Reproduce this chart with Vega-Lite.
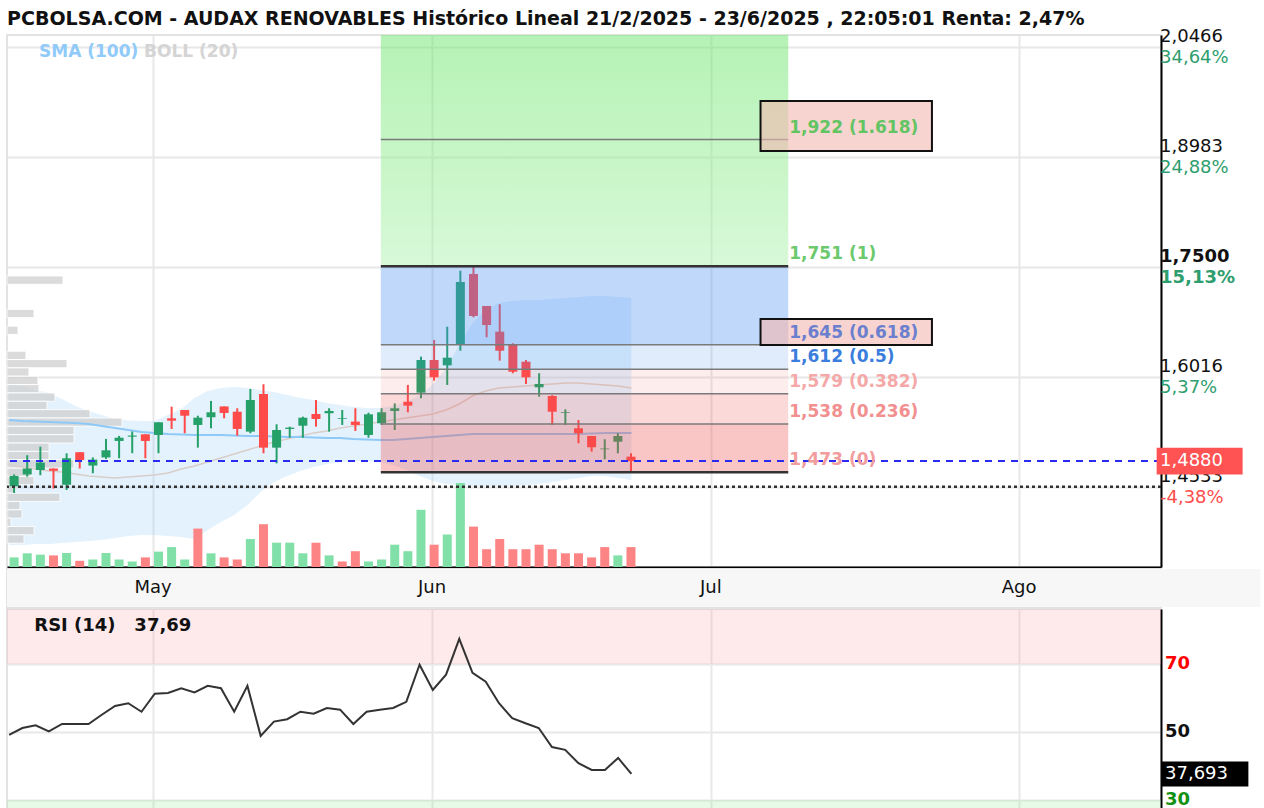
{
  "$schema": "https://vega.github.io/schema/vega-lite/v6.json",
  "background": "white",
  "padding": {"left": 4, "top": 10, "right": 0, "bottom": 0},
  "title": {"text": "PCBOLSA.COM - AUDAX RENOVABLES Histórico Lineal 21/2/2025 - 23/6/2025 , 22:05:01 Renta: 2,47%", "anchor": "start", "font": "DejaVu Sans", "fontSize": 19, "fontWeight": "bold", "color": "#111111", "offset": -2, "dx": 3},
  "config": {"view": {"stroke": "#e3e3e3", "strokeWidth": 2}, "font": "DejaVu Sans"},
  "spacing": 0,
  "datasets": {
    "velas": [
      {"i":0,"o":1.454,"h":1.470,"l":1.445,"c":1.468,"vol":96,"var":"+","rsi":49.2,"bs":1.5934,"bm":1.4828,"bi":1.3748,"sma":1.5435},
      {"i":1,"o":1.470,"h":1.496,"l":1.467,"c":1.478,"vol":137,"var":"+","rsi":51.2,"bs":1.5894,"bm":1.4801,"bi":1.3748,"sma":1.5422},
      {"i":2,"o":1.476,"h":1.5075,"l":1.469,"c":1.486,"vol":123,"var":"+","rsi":52.0,"bs":1.5840,"bm":1.4774,"bi":1.3762,"sma":1.5415},
      {"i":3,"o":1.478,"h":1.478,"l":1.451,"c":1.475,"vol":116,"var":"-","rsi":50.2,"bs":1.5799,"bm":1.4747,"bi":1.3762,"sma":1.5408},
      {"i":4,"o":1.456,"h":1.4985,"l":1.449,"c":1.492,"vol":140,"var":"+","rsi":52.4,"bs":1.5719,"bm":1.4734,"bi":1.3775,"sma":1.5401},
      {"i":5,"o":1.500,"h":1.500,"l":1.478,"c":1.4895,"vol":62,"var":"-","rsi":52.4,"bs":1.5624,"bm":1.4707,"bi":1.3789,"sma":1.5395},
      {"i":6,"o":1.482,"h":1.493,"l":1.4716,"c":1.490,"vol":75,"var":"+","rsi":52.4,"bs":1.5556,"bm":1.4680,"bi":1.3802,"sma":1.5381},
      {"i":7,"o":1.493,"h":1.518,"l":1.491,"c":1.5026,"vol":140,"var":"+","rsi":55.1,"bs":1.5502,"bm":1.4666,"bi":1.3816,"sma":1.5354},
      {"i":8,"o":1.5152,"h":1.522,"l":1.4918,"c":1.5196,"vol":75,"var":"+","rsi":57.7,"bs":1.5449,"bm":1.4653,"bi":1.3843,"sma":1.5327},
      {"i":9,"o":1.521,"h":1.528,"l":1.4987,"c":1.5225,"vol":55,"var":"+","rsi":58.5,"bs":1.5428,"bm":1.4666,"bi":1.3870,"sma":1.5300},
      {"i":10,"o":1.5242,"h":1.5242,"l":1.4918,"c":1.5152,"vol":96,"var":"-","rsi":56.0,"bs":1.5422,"bm":1.4680,"bi":1.3884,"sma":1.5273},
      {"i":11,"o":1.5233,"h":1.5404,"l":1.4986,"c":1.5404,"vol":154,"var":"+","rsi":61.3,"bs":1.5422,"bm":1.4693,"bi":1.3884,"sma":1.5260},
      {"i":12,"o":1.5458,"h":1.5615,"l":1.5314,"c":1.5426,"vol":199,"var":"+","rsi":61.5,"bs":1.5502,"bm":1.4720,"bi":1.3870,"sma":1.5246},
      {"i":13,"o":1.557,"h":1.557,"l":1.5256,"c":1.5493,"vol":75,"var":"+","rsi":62.9,"bs":1.5583,"bm":1.4774,"bi":1.3856,"sma":1.5240},
      {"i":14,"o":1.5368,"h":1.5493,"l":1.5062,"c":1.5466,"vol":384,"var":"-","rsi":61.7,"bs":1.5732,"bm":1.4814,"bi":1.3829,"sma":1.5233},
      {"i":15,"o":1.5472,"h":1.5692,"l":1.5323,"c":1.5539,"vol":137,"var":"+","rsi":63.6,"bs":1.5826,"bm":1.4868,"bi":1.3951,"sma":1.5233},
      {"i":16,"o":1.5618,"h":1.5618,"l":1.5458,"c":1.553,"vol":96,"var":"-","rsi":62.9,"bs":1.5867,"bm":1.4922,"bi":1.4059,"sma":1.5233},
      {"i":17,"o":1.5547,"h":1.5593,"l":1.5223,"c":1.5314,"vol":75,"var":"-","rsi":56.0,"bs":1.5880,"bm":1.4976,"bi":1.4154,"sma":1.5226},
      {"i":18,"o":1.5278,"h":1.5854,"l":1.5256,"c":1.5705,"vol":280,"var":"+","rsi":63.6,"bs":1.5867,"bm":1.5030,"bi":1.4289,"sma":1.5219},
      {"i":19,"o":1.5786,"h":1.5917,"l":1.4986,"c":1.5062,"vol":428,"var":"-","rsi":48.9,"bs":1.5840,"bm":1.5084,"bi":1.4464,"sma":1.5219},
      {"i":20,"o":1.5062,"h":1.5377,"l":1.485,"c":1.530,"vol":243,"var":"+","rsi":53.1,"bs":1.5813,"bm":1.5138,"bi":1.4599,"sma":1.5213},
      {"i":21,"o":1.5314,"h":1.5345,"l":1.5196,"c":1.5332,"vol":243,"var":"+","rsi":53.8,"bs":1.5772,"bm":1.5179,"bi":1.4680,"sma":1.5206},
      {"i":22,"o":1.5358,"h":1.548,"l":1.5196,"c":1.5466,"vol":137,"var":"+","rsi":56.0,"bs":1.5732,"bm":1.5219,"bi":1.4747,"sma":1.5206},
      {"i":23,"o":1.5516,"h":1.5705,"l":1.5345,"c":1.5449,"vol":243,"var":"-","rsi":55.4,"bs":1.5705,"bm":1.5260,"bi":1.4801,"sma":1.5199},
      {"i":24,"o":1.5526,"h":1.5593,"l":1.5278,"c":1.5557,"vol":116,"var":"+","rsi":57.1,"bs":1.5665,"bm":1.5287,"bi":1.4841,"sma":1.5192},
      {"i":25,"o":1.545,"h":1.557,"l":1.5368,"c":1.546,"vol":55,"var":"-","rsi":56.6,"bs":1.5637,"bm":1.5327,"bi":1.4868,"sma":1.5192},
      {"i":26,"o":1.5413,"h":1.5593,"l":1.5287,"c":1.5368,"vol":158,"var":"-","rsi":52.4,"bs":1.5610,"bm":1.5354,"bi":1.4882,"sma":1.5179},
      {"i":27,"o":1.5233,"h":1.5534,"l":1.5196,"c":1.5512,"vol":55,"var":"+","rsi":56.0,"bs":1.5597,"bm":1.5381,"bi":1.4882,"sma":1.5172},
      {"i":28,"o":1.5391,"h":1.5593,"l":1.5368,"c":1.5539,"vol":75,"var":"+","rsi":56.6,"bs":1.5597,"bm":1.5408,"bi":1.4868,"sma":1.5165},
      {"i":29,"o":1.5557,"h":1.566,"l":1.530,"c":1.5593,"vol":223,"var":"+","rsi":57.1,"bs":1.5624,"bm":1.5435,"bi":1.4828,"sma":1.5165},
      {"i":30,"o":1.5682,"h":1.5908,"l":1.5539,"c":1.5629,"vol":158,"var":"+","rsi":58.9,"bs":1.5678,"bm":1.5462,"bi":1.4761,"sma":1.5179},
      {"i":31,"o":1.5804,"h":1.629,"l":1.5728,"c":1.6245,"vol":572,"var":"+","rsi":69.8,"bs":1.5772,"bm":1.5489,"bi":1.4680,"sma":1.5192},
      {"i":32,"o":1.6245,"h":1.6515,"l":1.5966,"c":1.6011,"vol":223,"var":"-","rsi":62.4,"bs":1.5907,"bm":1.5516,"bi":1.4613,"sma":1.5206},
      {"i":33,"o":1.6173,"h":1.6694,"l":1.5908,"c":1.6276,"vol":325,"var":"+","rsi":66.9,"bs":1.6137,"bm":1.5570,"bi":1.4572,"sma":1.5219},
      {"i":34,"o":1.6447,"h":1.745,"l":1.637,"c":1.7298,"vol":840,"var":"+","rsi":77.4,"bs":1.6447,"bm":1.5651,"bi":1.4559,"sma":1.5233},
      {"i":35,"o":1.7406,"h":1.751,"l":1.6821,"c":1.6839,"vol":404,"var":"-","rsi":67.4,"bs":1.6744,"bm":1.5759,"bi":1.4545,"sma":1.5246},
      {"i":36,"o":1.6974,"h":1.6974,"l":1.6551,"c":1.6717,"vol":178,"var":"-","rsi":64.8,"bs":1.6920,"bm":1.5826,"bi":1.4545,"sma":1.5246},
      {"i":37,"o":1.6627,"h":1.6997,"l":1.6236,"c":1.637,"vol":280,"var":"-","rsi":58.5,"bs":1.7014,"bm":1.5867,"bi":1.4545,"sma":1.5246},
      {"i":38,"o":1.6457,"h":1.647,"l":1.6066,"c":1.6087,"vol":178,"var":"-","rsi":54.1,"bs":1.7041,"bm":1.5880,"bi":1.4545,"sma":1.5246},
      {"i":39,"o":1.6222,"h":1.6245,"l":1.5921,"c":1.6011,"vol":178,"var":"-","rsi":52.6,"bs":1.7055,"bm":1.5894,"bi":1.4559,"sma":1.5246},
      {"i":40,"o":1.5876,"h":1.6066,"l":1.575,"c":1.5921,"vol":223,"var":"-","rsi":51.2,"bs":1.7055,"bm":1.5907,"bi":1.4572,"sma":1.5246},
      {"i":41,"o":1.5759,"h":1.577,"l":1.5368,"c":1.5547,"vol":178,"var":"-","rsi":45.6,"bs":1.7068,"bm":1.5921,"bi":1.4599,"sma":1.5246},
      {"i":42,"o":1.553,"h":1.5579,"l":1.5368,"c":1.554,"vol":137,"var":"-","rsi":44.8,"bs":1.7082,"bm":1.5934,"bi":1.4626,"sma":1.5246},
      {"i":43,"o":1.5323,"h":1.5435,"l":1.512,"c":1.5256,"vol":137,"var":"-","rsi":40.9,"bs":1.7095,"bm":1.5934,"bi":1.4653,"sma":1.5246},
      {"i":44,"o":1.5219,"h":1.522,"l":1.5008,"c":1.5067,"vol":96,"var":"-","rsi":38.9,"bs":1.7109,"bm":1.5921,"bi":1.4680,"sma":1.5253},
      {"i":45,"o":1.504,"h":1.5175,"l":1.4905,"c":1.505,"vol":199,"var":"-","rsi":38.9,"bs":1.7109,"bm":1.5907,"bi":1.4680,"sma":1.5260},
      {"i":46,"o":1.5142,"h":1.5256,"l":1.4986,"c":1.5219,"vol":116,"var":"+","rsi":42.4,"bs":1.7095,"bm":1.5894,"bi":1.4653,"sma":1.5260},
      {"i":47,"o":1.494,"h":1.4986,"l":1.473,"c":1.488,"vol":199,"var":"-","rsi":37.7,"bs":1.7082,"bm":1.5867,"bi":1.4626,"sma":1.5260}
    ],
    "perfil": [
      {"sup":1.7379,"inf":1.7266,"vol":56},
      {"sup":1.6928,"inf":1.6815,"vol":27},
      {"sup":1.6702,"inf":1.6590,"vol":11},
      {"sup":1.6364,"inf":1.6251,"vol":19},
      {"sup":1.6251,"inf":1.6139,"vol":60},
      {"sup":1.6139,"inf":1.6026,"vol":22},
      {"sup":1.6026,"inf":1.5913,"vol":31},
      {"sup":1.5913,"inf":1.5801,"vol":32},
      {"sup":1.5801,"inf":1.5688,"vol":48},
      {"sup":1.5688,"inf":1.5575,"vol":40},
      {"sup":1.5575,"inf":1.5462,"vol":83},
      {"sup":1.5462,"inf":1.5350,"vol":115},
      {"sup":1.5350,"inf":1.5237,"vol":67},
      {"sup":1.5237,"inf":1.5124,"vol":67},
      {"sup":1.5124,"inf":1.5012,"vol":42},
      {"sup":1.5012,"inf":1.4899,"vol":42},
      {"sup":1.4899,"inf":1.4786,"vol":67},
      {"sup":1.4786,"inf":1.4674,"vol":24},
      {"sup":1.4674,"inf":1.4561,"vol":27},
      {"sup":1.4561,"inf":1.4448,"vol":8},
      {"sup":1.4448,"inf":1.4336,"vol":53},
      {"sup":1.4336,"inf":1.4223,"vol":13},
      {"sup":1.4223,"inf":1.4110,"vol":15},
      {"sup":1.4110,"inf":1.3998,"vol":4},
      {"sup":1.3998,"inf":1.3885,"vol":27},
      {"sup":1.3885,"inf":1.3772,"vol":17}
    ],
    "fib": [
      {"nivel":1.922,"t":"1,922 (1.618)"},
      {"nivel":1.751,"t":"1,751 (1)"},
      {"nivel":1.645,"t":"1,645 (0.618)"},
      {"nivel":1.612,"t":"1,612 (0.5)"},
      {"nivel":1.579,"t":"1,579 (0.382)"},
      {"nivel":1.538,"t":"1,538 (0.236)"},
      {"nivel":1.473,"t":"1,473 (0)"}
    ],
    "zonas": [
      {"sup":1.751,"inf":1.645},
      {"sup":1.645,"inf":1.612},
      {"sup":1.612,"inf":1.579},
      {"sup":1.579,"inf":1.538},
      {"sup":1.538,"inf":1.473}
    ],
    "ejes": [
      {"v":2.0466,"t":"2,0466","p":"34,64%"},
      {"v":1.8983,"t":"1,8983","p":"24,88%"},
      {"v":1.75,"t":"1,7500","p":"15,13%"},
      {"v":1.6016,"t":"1,6016","p":"5,37%"},
      {"v":1.4533,"t":"1,4533","p":"-4,38%"}
    ],
    "meses": [
      {"i":10.87,"mes":"May"},
      {"i":31.94,"mes":"Jun"},
      {"i":53.0,"mes":"Jul"},
      {"i":76.28,"mes":"Ago"}
    ],
    "rsiejes": [
      {"v":70,"t":"70"},
      {"v":50,"t":"50"},
      {"v":30,"t":"30"}
    ]
  },
  "vconcat": [
    {
      "width": 1154,
      "height": 532,
      "resolve": {"scale": {"x": "independent", "y": "independent"}},
      "layer": [
        {
          "data": {"name": "velas"},
          "mark": {"type": "area", "color": "#90caf9", "opacity": 0.25, "clip": true},
          "encoding": {
            "x": {"field": "i", "type": "quantitative", "scale": {"domain": [-0.16, 87.0], "nice": false, "zero": false},
                  "axis": {"values": [10.87, 31.94, 53.0, 76.28], "grid": true, "gridColor": "#e8e8e8", "gridWidth": 2, "labels": false, "ticks": false, "domain": true, "domainColor": "#000000", "domainWidth": 2, "title": null}},
            "y": {"field": "bs", "type": "quantitative", "scale": {"domain": [1.3451, 2.0631], "nice": false, "zero": false},
                  "axis": {"orient": "right", "values": [1.4533, 1.6016, 1.75, 1.8983, 2.0466], "grid": true, "gridColor": "#e8e8e8", "gridWidth": 2, "labels": false, "ticks": false, "domain": true, "domainColor": "#000000", "domainWidth": 2, "title": null}},
            "y2": {"field": "bi"}
          }
        },
        {
          "data": {"name": "perfil"},
          "mark": {"type": "rect", "color": "#d0d0d0", "opacity": 0.75, "stroke": "white", "strokeWidth": 1},
          "encoding": {
            "x": {"field": "vol", "type": "quantitative", "scale": {"domain": [0, 1154], "nice": false, "zero": false}, "axis": null},
            "x2": {"datum": 0},
            "y": {"field": "sup", "type": "quantitative", "scale": {"domain": [1.3451, 2.0631], "nice": false, "zero": false}, "axis": null},
            "y2": {"field": "inf"}
          }
        },
        {
          "data": {"name": "velas"},
          "layer": [
            {
              "mark": {"type": "line", "color": "#d9cec9", "strokeWidth": 1.5, "clip": true},
              "encoding": {
                "x": {"field": "i", "type": "quantitative", "scale": {"domain": [-0.16, 87.0], "nice": false, "zero": false}, "axis": null},
                "y": {"field": "bm", "type": "quantitative", "scale": {"domain": [1.3451, 2.0631], "nice": false, "zero": false}, "axis": null}
              }
            },
            {
              "mark": {"type": "line", "color": "#8ec9f8", "strokeWidth": 2, "clip": true},
              "encoding": {
                "x": {"field": "i", "type": "quantitative", "axis": null},
                "y": {"field": "sma", "type": "quantitative", "axis": null}
              }
            }
          ]
        },
        {
          "data": {"name": "velas"},
          "mark": {"type": "bar", "size": 9, "clip": true},
          "encoding": {
            "x": {"field": "i", "type": "quantitative", "scale": {"domain": [-0.16, 87.0], "nice": false, "zero": false}, "axis": null},
            "y": {"field": "vol", "type": "quantitative", "scale": {"domain": [0, 5320], "nice": false, "zero": false}, "axis": null},
            "color": {"condition": {"test": "datum['var'] == '+'", "value": "#80e0a8"}, "value": "#fc8484"}
          }
        },
        {
          "layer": [
            {
              "data": {"name": "velas"},
              "mark": {"type": "rule", "strokeWidth": 2, "clip": true},
              "encoding": {
                "x": {"field": "i", "type": "quantitative", "scale": {"domain": [-0.16, 87.0], "nice": false, "zero": false}, "axis": null},
                "y": {"field": "l", "type": "quantitative", "scale": {"domain": [1.3451, 2.0631], "nice": false, "zero": false}, "axis": null},
                "y2": {"field": "h"},
                "color": {"condition": {"test": "datum.c >= datum.o", "value": "#26a069"}, "value": "#ff4a4a"}
              }
            },
            {
              "data": {"name": "velas"},
              "mark": {"type": "bar", "size": 9, "clip": true},
              "encoding": {
                "x": {"field": "i", "type": "quantitative"},
                "y": {"field": "o", "type": "quantitative"},
                "y2": {"field": "c"},
                "color": {"condition": {"test": "datum.c >= datum.o", "value": "#26a069"}, "value": "#ff4a4a"}
              }
            },
            {
              "data": {"values": [{}]},
              "mark": {"type": "rect", "clip": true, "opacity": 0.5, "color": {"gradient": "linear", "x1": 0, "y1": 0, "x2": 0, "y2": 1, "stops": [{"offset": 0, "color": "#6be56b"}, {"offset": 1, "color": "#b0f2b0"}]}},
              "encoding": {
                "x": {"datum": 27.94, "type": "quantitative"},
                "x2": {"datum": 58.98},
                "y": {"datum": 2.0631, "type": "quantitative"},
                "y2": {"datum": 1.751}
              }
            },
            {
              "data": {"name": "zonas"},
              "mark": {"type": "rect"},
              "encoding": {
                "x": {"datum": 27.94, "type": "quantitative"},
                "x2": {"datum": 58.98},
                "y": {"field": "sup", "type": "quantitative"},
                "y2": {"field": "inf"},
                "color": {"condition": {"test": "datum.sup > 1.62", "value": "#4a8ef0"}, "value": "#f05050"},
                "opacity": {"condition": [{"test": "datum.sup > 1.7", "value": 0.35}, {"test": "datum.sup > 1.62", "value": 0.17}, {"test": "datum.sup > 1.6", "value": 0.1}, {"test": "datum.sup > 1.56", "value": 0.22}], "value": 0.33}
              }
            },
            {
              "data": {"name": "fib"},
              "mark": {"type": "rule"},
              "encoding": {
                "x": {"datum": 27.94, "type": "quantitative"},
                "x2": {"datum": 58.98},
                "y": {"field": "nivel", "type": "quantitative"},
                "color": {"condition": {"test": "datum.nivel == 1.751 || datum.nivel == 1.473", "value": "#333333"}, "value": "#7a7a7a"},
                "strokeWidth": {"condition": {"test": "datum.nivel == 1.751 || datum.nivel == 1.473", "value": 2.5}, "value": 1.5}
              }
            },
            {
              "data": {"values": [{}]},
              "mark": {"type": "rect", "fill": "#f4b8b0", "fillOpacity": 0.6, "stroke": "#111111", "strokeWidth": 2, "clip": false},
              "encoding": {
                "x": {"datum": 56.87, "type": "quantitative"},
                "x2": {"datum": 69.93},
                "y": {"datum": 1.974, "type": "quantitative"},
                "y2": {"datum": 1.9066}
              }
            },
            {
              "data": {"values": [{}]},
              "mark": {"type": "rect", "fill": "#f4b8b0", "fillOpacity": 0.6, "stroke": "#111111", "strokeWidth": 2, "clip": false},
              "encoding": {
                "x": {"datum": 56.87, "type": "quantitative"},
                "x2": {"datum": 69.93},
                "y": {"datum": 1.6798, "type": "quantitative"},
                "y2": {"datum": 1.6447}
              }
            },
            {
              "data": {"values": [{}]},
              "mark": {"type": "rule", "color": "#2a2af5", "strokeWidth": 2, "strokeDash": [7, 6]},
              "encoding": {"y": {"datum": 1.488, "type": "quantitative"}}
            },
            {
              "data": {"values": [{}]},
              "mark": {"type": "rule", "color": "#333333", "strokeWidth": 2.5, "strokeDash": [3, 3]},
              "encoding": {"y": {"datum": 1.4533, "type": "quantitative"}}
            },
            {
              "data": {"name": "fib"},
              "mark": {"type": "text", "align": "left", "baseline": "middle", "dx": 1, "dy": -12, "fontSize": 17, "fontWeight": "bold", "clip": false},
              "encoding": {
                "x": {"datum": 58.98, "type": "quantitative"},
                "y": {"field": "nivel", "type": "quantitative"},
                "text": {"field": "t"},
                "color": {"condition": [
                  {"test": "datum.nivel == 1.922", "value": "#62c462"},
                  {"test": "datum.nivel == 1.751", "value": "#6cc96c"},
                  {"test": "datum.nivel == 1.645", "value": "#6b7fcf"},
                  {"test": "datum.nivel == 1.612", "value": "#3b7ddd"},
                  {"test": "datum.nivel == 1.579", "value": "#f5a8a8"},
                  {"test": "datum.nivel == 1.538", "value": "#f28f8f"}
                ], "value": "#f29d9d"}
              }
            },
            {
              "data": {"values": [{}]},
              "mark": {"type": "text", "align": "left", "baseline": "middle", "fontSize": 17, "fontWeight": "bold", "color": "#90caf9"},
              "encoding": {
                "x": {"datum": 1.9, "type": "quantitative"},
                "y": {"datum": 2.0401, "type": "quantitative"},
                "text": {"value": "SMA (100)"}
              }
            },
            {
              "data": {"values": [{}]},
              "mark": {"type": "text", "align": "left", "baseline": "middle", "fontSize": 17, "fontWeight": "bold", "color": "#d4d4d4"},
              "encoding": {
                "x": {"datum": 9.9, "type": "quantitative"},
                "y": {"datum": 2.0401, "type": "quantitative"},
                "text": {"value": "BOLL (20)"}
              }
            },
            {
              "data": {"name": "ejes"},
              "transform": [{"filter": "datum.v != 1.75"}],
              "mark": {"type": "text", "align": "left", "baseline": "middle", "dx": 4, "dy": -10, "fontSize": 18, "color": "#111111", "clip": false},
              "encoding": {
                "x": {"datum": 87.0, "type": "quantitative"},
                "y": {"field": "v", "type": "quantitative"},
                "text": {"field": "t"}
              }
            },
            {
              "data": {"name": "ejes"},
              "transform": [{"filter": "datum.v == 1.75"}],
              "mark": {"type": "text", "align": "left", "baseline": "middle", "dx": 4, "dy": -10, "fontSize": 18, "fontWeight": "bold", "color": "#111111", "clip": false},
              "encoding": {
                "x": {"datum": 87.0, "type": "quantitative"},
                "y": {"field": "v", "type": "quantitative"},
                "text": {"field": "t"}
              }
            },
            {
              "data": {"name": "ejes"},
              "transform": [{"filter": "datum.v != 1.75"}],
              "mark": {"type": "text", "align": "left", "baseline": "middle", "dx": 4, "dy": 11, "fontSize": 18, "clip": false},
              "encoding": {
                "x": {"datum": 87.0, "type": "quantitative"},
                "y": {"field": "v", "type": "quantitative"},
                "text": {"field": "p"},
                "color": {"condition": {"test": "datum.v < 1.52", "value": "#ff4d4d"}, "value": "#2e9e6e"}
              }
            },
            {
              "data": {"name": "ejes"},
              "transform": [{"filter": "datum.v == 1.75"}],
              "mark": {"type": "text", "align": "left", "baseline": "middle", "dx": 4, "dy": 11, "fontSize": 18, "fontWeight": "bold", "color": "#2e9e6e", "clip": false},
              "encoding": {
                "x": {"datum": 87.0, "type": "quantitative"},
                "y": {"field": "v", "type": "quantitative"},
                "text": {"field": "p"}
              }
            },
            {
              "data": {"values": [{}]},
              "mark": {"type": "rect", "color": "#ff5252", "clip": false},
              "encoding": {
                "x": {"datum": 87.05, "type": "quantitative"},
                "x2": {"datum": 93.6},
                "y": {"datum": 1.5062, "type": "quantitative"},
                "y2": {"datum": 1.4698}
              }
            },
            {
              "data": {"values": [{}]},
              "mark": {"type": "text", "align": "left", "baseline": "middle", "dx": 4, "fontSize": 18, "color": "white", "clip": false},
              "encoding": {
                "x": {"datum": 87.0, "type": "quantitative"},
                "y": {"datum": 1.488, "type": "quantitative"},
                "text": {"value": "1,4880"}
              }
            }
          ]
        }
      ]
    },
    {
      "width": 1154,
      "height": 38,
      "layer": [
        {
          "data": {"values": [{}]},
          "mark": {"type": "rect", "color": "#f7f7f7", "clip": false},
          "encoding": {
            "x": {"datum": -0.16, "type": "quantitative", "scale": {"domain": [-0.16, 87.0], "nice": false, "zero": false}, "axis": null},
            "x2": {"datum": 94.5}
          }
        },
        {
          "data": {"name": "meses"},
          "mark": {"type": "text", "fontSize": 18, "baseline": "middle", "align": "center", "color": "#111111"},
          "encoding": {
            "x": {"field": "i", "type": "quantitative", "axis": null},
            "text": {"field": "mes"}
          }
        }
      ]
    },
    {
      "width": 1154,
      "height": 200,
      "layer": [
        {
          "data": {"values": [{}]},
          "mark": {"type": "rect", "color": "#f9a0a0", "opacity": 0.22},
          "encoding": {
            "x": {"datum": -0.16, "type": "quantitative", "scale": {"domain": [-0.16, 87.0], "nice": false, "zero": false},
                  "axis": {"values": [10.87, 31.94, 53.0, 76.28], "grid": true, "gridColor": "#e8e8e8", "gridWidth": 2, "labels": false, "ticks": false, "domain": false, "title": null}},
            "x2": {"datum": 87.0},
            "y": {"datum": 70, "type": "quantitative", "scale": {"domain": [27.4, 86.2], "nice": false, "zero": false},
                  "axis": {"orient": "right", "values": [30, 50, 70], "grid": true, "gridColor": "#e8e8e8", "gridWidth": 2, "labels": false, "ticks": false, "domain": true, "domainColor": "#000000", "domainWidth": 2, "title": null}},
            "y2": {"datum": 86.2}
          }
        },
        {
          "data": {"values": [{}]},
          "mark": {"type": "rect", "color": "#90e890", "opacity": 0.22},
          "encoding": {
            "x": {"datum": -0.16, "type": "quantitative"},
            "x2": {"datum": 87.0},
            "y": {"datum": 27.4, "type": "quantitative"},
            "y2": {"datum": 30}
          }
        },
        {
          "data": {"name": "velas"},
          "mark": {"type": "line", "color": "#333333", "strokeWidth": 2},
          "encoding": {
            "x": {"field": "i", "type": "quantitative"},
            "y": {"field": "rsi", "type": "quantitative"}
          }
        },
        {
          "data": {"values": [{}]},
          "mark": {"type": "text", "align": "left", "baseline": "middle", "fontSize": 18, "fontWeight": "bold", "color": "#111111"},
          "encoding": {
            "x": {"datum": 1.9, "type": "quantitative"},
            "y": {"datum": 81.2, "type": "quantitative"},
            "text": {"value": "RSI (14)\u00a0\u00a0 37,69"}
          }
        },
        {
          "data": {"name": "rsiejes"},
          "mark": {"type": "text", "align": "left", "baseline": "middle", "dx": 4, "fontSize": 18, "fontWeight": "bold", "clip": false},
          "encoding": {
            "x": {"datum": 87.0, "type": "quantitative"},
            "y": {"field": "v", "type": "quantitative"},
            "text": {"field": "t"},
            "color": {"condition": [{"test": "datum.v == 70", "value": "#ff0000"}, {"test": "datum.v == 30", "value": "#129212"}], "value": "#111111"}
          }
        },
        {
          "data": {"values": [{}]},
          "mark": {"type": "rect", "color": "#000000", "clip": false},
          "encoding": {
            "x": {"datum": 87.0, "type": "quantitative"},
            "x2": {"datum": 93.6},
            "y": {"datum": 41.4, "type": "quantitative"},
            "y2": {"datum": 34.0}
          }
        },
        {
          "data": {"values": [{}]},
          "mark": {"type": "text", "align": "left", "baseline": "middle", "dx": 4, "fontSize": 18, "color": "white", "clip": false},
          "encoding": {
            "x": {"datum": 87.0, "type": "quantitative"},
            "y": {"datum": 37.693, "type": "quantitative"},
            "text": {"value": "37,693"}
          }
        }
      ]
    }
  ]
}
